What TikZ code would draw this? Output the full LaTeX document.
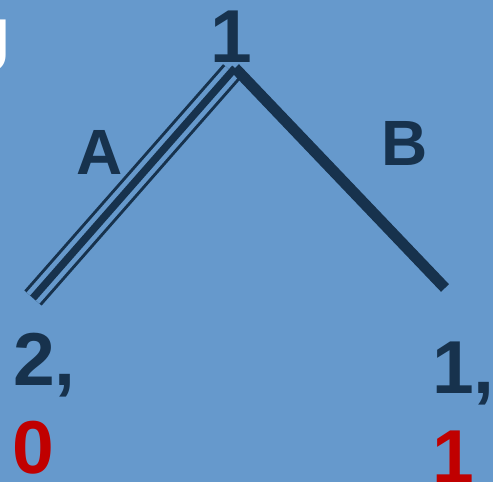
\documentclass[tikz,border=0pt]{standalone}
\usepackage{fontspec}
\setmainfont{Liberation Sans}
\definecolor{bgblue}{HTML}{6699CC}
\definecolor{navy}{HTML}{17324D}
\definecolor{darkred}{HTML}{C00000}
\begin{document}
\begin{tikzpicture}[x=1pt,y=-1pt,
  big/.style={inner sep=0pt,anchor=base west,font=\fontsize{75}{75}\selectfont\bfseries},
  lab/.style={inner sep=0pt,anchor=base west,font=\fontsize{64}{64}\selectfont\bfseries,text=navy},
]
\fill[bgblue] (0,0) rectangle (493,482);
\useasboundingbox (0,0) rectangle (493,482);
\begin{scope}
\clip (0,0) rectangle (493,482);
\node[big,anchor=base east,text=white] (cut) at (11,71) {J};
\node[big,text=navy] (top) at (210,62) {1};
\node[big,text=navy] (l1) at (13,385) {2,};
\node[big,text=darkred] (l2) at (12,473) {0};
\node[big,text=navy] (r1) at (432,393) {1,};
\node[big,text=darkred] (r2) at (432,482) {1};
\end{scope}
\node[lab] (A) at (76,174) {A};
\node[lab] (B) at (381,165) {B};
\coordinate (apex) at (235,68);
\coordinate (aend) at (33,298);
\coordinate (bend) at (445,288);
\draw[navy,line width=3pt,double=bgblue,double distance=17pt,shorten <=5pt] (apex) -- (aend);
\draw[navy,line width=7.5pt] (aend) -- (apex);
\draw[navy,line width=11pt] (apex) -- (bend);
\end{tikzpicture}
\end{document}
